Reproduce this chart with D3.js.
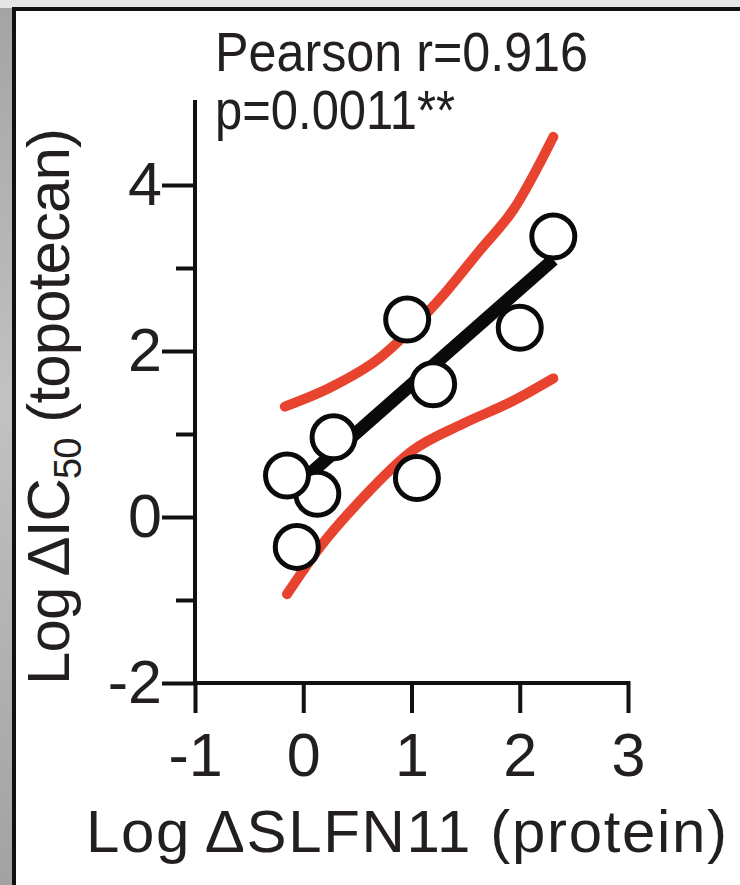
<!DOCTYPE html>
<html>
  <head>
    <title>SLFN11 vs topotecan</title>
    <script src="https://cdn.jsdelivr.net/npm/d3@7/dist/d3.min.js"></script>
    <style>
      body { margin: 0; background: #fff; }
      text { font-family: "Liberation Sans", Arial, sans-serif; fill: #231f20; }
    </style>
  </head>
  <body>
    <svg width="740" height="885"></svg>

    <script>

      // points (drawn in this order, last on top)
      const slfnX = [0.13, -0.15, 0.28, -0.06, 0.96, 1.20, 1.05, 2.00, 2.31];
      const icY   = [0.28, 0.50, 0.96, -0.36, 2.38, 1.60, 0.47, 2.28, 3.38];

      // regression line end points
      const fitX = [-0.15, 2.31];
      const fitY = [0.28, 3.10];

      // 95% band
      const upperX = [-0.17, 0.25, 0.71, 1.01, 1.33, 1.63, 1.94, 2.31];
      const upperY = [1.33, 1.56, 1.92, 2.28, 2.73, 3.21, 3.70, 4.58];
      const lowerX = [-0.15, 0.15, 0.55, 1.01, 1.47, 1.94, 2.31];
      const lowerY = [-0.93, -0.37, 0.23, 0.80, 1.12, 1.40, 1.67];

      const xTicks = [-1, 0, 1, 2, 3];
      const yTicks = [-2, 0, 2, 4];
      const yMinor = [-1, 1, 3];

      const svg = d3.select("svg");

      // grey shadow round the framed panel
      const defs = svg.append("defs");
      const lg = defs.append("linearGradient").attr("id", "sideShade")
          .attr("x1", 0).attr("y1", 0).attr("x2", 0).attr("y2", 1);
      lg.append("stop").attr("offset", "0%").attr("stop-color", "#a4a4a4");
      lg.append("stop").attr("offset", "45%").attr("stop-color", "#c2c2c2");
      lg.append("stop").attr("offset", "100%").attr("stop-color", "#a2a2a2");

      svg.append("rect").attr("width", 740).attr("height", 885).attr("fill", "#e6e6e6");
      svg.append("rect").attr("x", 0).attr("y", 8).attr("width", 14).attr("height", 877)
         .attr("fill", "url(#sideShade)");
      svg.append("rect").attr("x", 14).attr("y", 9).attr("width", 740).attr("height", 890)
         .attr("fill", "#fff").attr("stroke", "#111").attr("stroke-width", 4);

      const x = d3.scaleLinear().domain([-1, 3]).range([195, 628]);
      const y = d3.scaleLinear().domain([-2, 5]).range([683, 102]);

      const g = svg.append("g");

      // axes
      const yAxis = g.append("g").attr("transform", "translate(195,0)")
          .call(d3.axisLeft(y).tickValues(yTicks).tickSize(31).tickPadding(2)
                .tickFormat(d => String(d)));
      g.append("g").attr("transform", "translate(195,0)")
          .call(d3.axisLeft(y).tickValues(yMinor).tickSize(17).tickFormat(""))
          .select(".domain").remove();

      const xAxis = g.append("g").attr("transform", "translate(0,683)")
          .call(d3.axisBottom(x).tickValues(xTicks).tickSize(28).tickPadding(22)
                .tickFormat(d => String(d)));

      g.selectAll(".domain, .tick line")
          .attr("stroke", "#111").attr("stroke-width", 4).attr("stroke-linecap", "square");
      yAxis.select(".domain").attr("d", `M0,${y(5)}V${y(-2)}`);
      xAxis.select(".domain").attr("d", `M${x(-1)},0H${x(3)}`);
      g.selectAll(".tick text")
          .attr("font-family", "Liberation Sans, Arial, sans-serif")
          .attr("font-size", 61).attr("fill", "#231f20");

      // confidence band
      const band = d3.line().curve(d3.curveMonotoneX)
          .x(d => x(d[0])).y(d => y(d[1]));
      [d3.zip(upperX, upperY), d3.zip(lowerX, lowerY)].forEach(pts => {
        g.append("path").attr("d", band(pts))
            .attr("fill", "none").attr("stroke", "#e8432e")
            .attr("stroke-width", 10).attr("stroke-linecap", "round");
      });

      // fit line
      g.append("line")
          .attr("x1", x(fitX[0])).attr("y1", y(fitY[0]))
          .attr("x2", x(fitX[1])).attr("y2", y(fitY[1]))
          .attr("stroke", "#0a0a0a").attr("stroke-width", 13);

      // points
      g.selectAll("circle.pt").data(d3.zip(slfnX, icY)).enter()
        .append("circle").attr("class", "pt")
          .attr("cx", d => x(d[0])).attr("cy", d => y(d[1]))
          .attr("r", 21.5)
          .attr("fill", "#fff")
          .attr("stroke", "#0a0a0a").attr("stroke-width", 5);

      // stats text
      g.append("text").attr("x", 215).attr("y", 71)
          .attr("font-size", 55).attr("fill", "#333")
          .attr("textLength", 373).attr("lengthAdjust", "spacingAndGlyphs")
          .text("Pearson r=0.916");
      g.append("text").attr("x", 215).attr("y", 129)
          .attr("font-size", 55).attr("fill", "#333")
          .attr("textLength", 240).attr("lengthAdjust", "spacingAndGlyphs")
          .text("p=0.0011**");

      // axis titles
      g.append("text").attr("x", 86).attr("y", 852)
          .attr("font-size", 60).attr("textLength", 641)
          .text("Log\u2009ΔSLFN11 (protein)");

      const yl = g.append("text")
          .attr("transform", "translate(69,685) rotate(-90)")
          .attr("font-size", 60)
          .attr("textLength", 557);
      yl.append("tspan").text("Log\u2009ΔIC");
      yl.append("tspan").attr("font-size", 38).attr("dy", 12).text("50");
      yl.append("tspan").attr("dy", -12).text(" (topotecan)");

    </script>
  </body>
</html>
